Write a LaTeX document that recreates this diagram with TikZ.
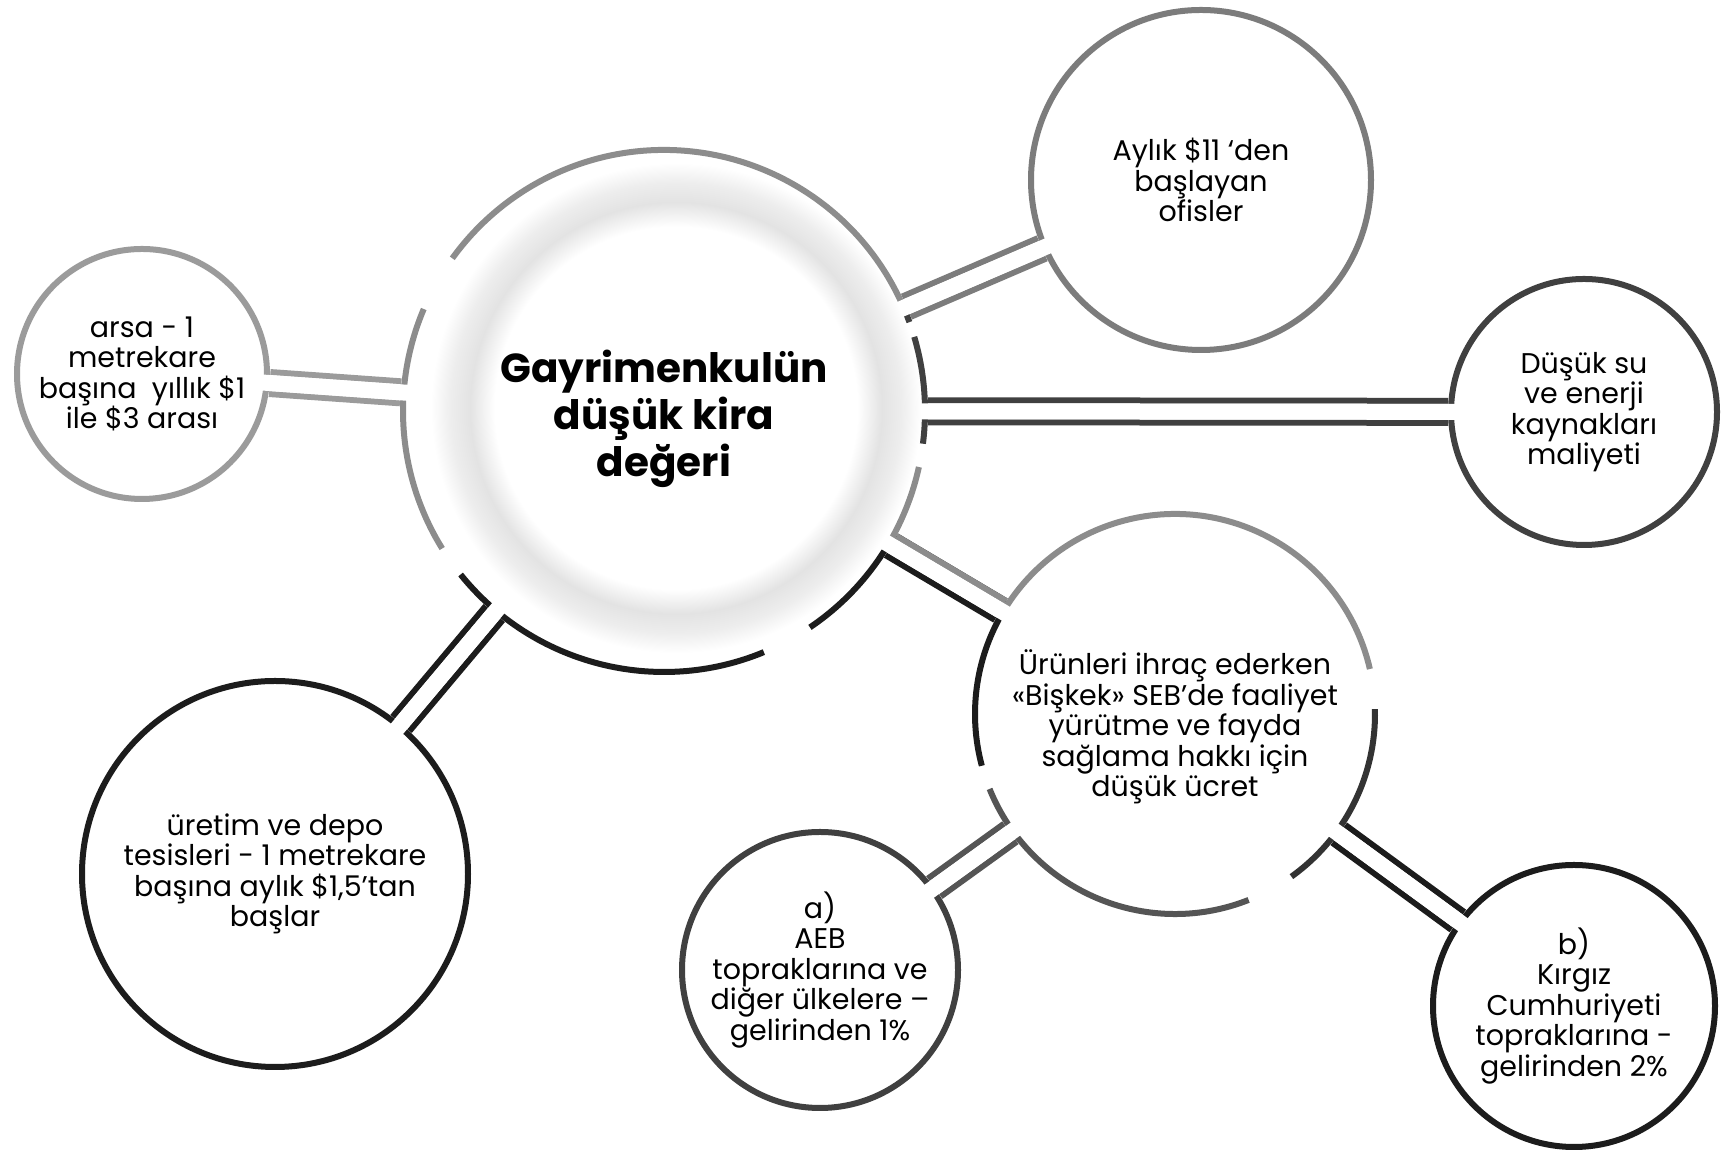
\documentclass[tikz,border=0pt]{standalone}
\usepackage{fontspec}
\setmainfont{Poppins}
\usetikzlibrary{calc}

\definecolor{lgray}{HTML}{9B9B9B}
\definecolor{mgray}{HTML}{7C7C7C}
\definecolor{rgray}{HTML}{8C8C8C}
\definecolor{sgray}{HTML}{555555}
\definecolor{dgray}{HTML}{404040}
\definecolor{ink}{HTML}{1C1C1C}

\pgfdeclareradialshading{hubglow}{\pgfpoint{0bp}{0bp}}{%
  color(0bp)=(white); color(18.5bp)=(white); color(21bp)=(black!11);
  color(23bp)=(black!7); color(25bp)=(white); color(50bp)=(white)}

\tikzset{
  txt/.style={align=center, font=\fontsize{28.5}{30.5}\selectfont},
  bubble/.style={circle, fill=white, line width=6pt, inner sep=0pt, txt},
  pipe/.style={double=white, double distance=16pt, line width=6pt},
  cut/.style={white, line width=16pt, shorten <=-7pt, shorten >=-7pt},
  ring/.style={line width=6pt},
}

\begin{document}
\begin{tikzpicture}[x=1pt, y=1pt]
  \def\hubR{261} \def\sebR{200}
  \fill[white] (0,0) rectangle (1722,1155);
  \useasboundingbox (0,0) rectangle (1722,1155);

  % soft glow inside the central ring
  \shade[shading=hubglow] (676,747) circle (245);
  \node[circle, inner sep=0pt, outer sep=0pt, minimum size=528pt,
        label={[align=center, font=\fontsize{40.5}{47}\selectfont\bfseries, yshift=-8pt]center:{Gayrimenkulün\\düşük kira\\değeri}}]
        (hub) at (664,744) {};

  % central ring, broken in pieces
  \draw[ring, rgray] ([shift={(hub.center)}]23.5:\hubR) arc[start angle=23.5, end angle=144.2, radius=\hubR];
  \draw[ring, dgray] ([shift={(hub.center)}]19.9:\hubR) arc[start angle=19.9, end angle=23.5, radius=\hubR];
  \draw[ring, dgray] ([shift={(hub.center)}]-7.2:\hubR) arc[start angle=-7.2, end angle=16.5, radius=\hubR];
  \draw[ring, rgray] ([shift={(hub.center)}]-30:\hubR) arc[start angle=-30, end angle=-12.4, radius=\hubR];
  \draw[ring, ink] ([shift={(hub.center)}]-56:\hubR) arc[start angle=-56, end angle=-30, radius=\hubR];
  \draw[ring, ink] ([shift={(hub.center)}]218.8:\hubR) arc[start angle=218.8, end angle=292.5, radius=\hubR];
  \draw[ring, rgray] ([shift={(hub.center)}]157:\hubR) arc[start angle=157, end angle=211.8, radius=\hubR];

  % outer circles
  \node[bubble, draw=lgray, minimum size=250pt] (arsa) at (142,781)
        {arsa - 1\\metrekare\\başına \ yıllık \$1\\ile \$3 arası};
  \node[bubble, draw=mgray, minimum size=340pt] (ofis) at (1201,975)
        {Aylık \$11 ‘den\\başlayan\\ofisler};
  \node[bubble, draw=dgray, minimum size=266pt] (su) at (1584,743)
        {Düşük su\\ve enerji\\kaynakları\\maliyeti};
  \node[bubble, minimum size=400pt,
        label={[txt, yshift=-13pt]center:{Ürünleri ihraç ederken\\«Bişkek» SEB’de faaliyet\\yürütme ve fayda\\sağlama hakkı için\\düşük ücret}}]
        (seb) at (1175,441) {};
  \node[bubble, draw=dgray, minimum size=276pt] (aeb) at (820,185)
        {a)\\AEB\\topraklarına ve\\diğer ülkelere –\\gelirinden 1\%};
  \node[bubble, draw=ink, minimum size=282pt] (kg) at (1574,149)
        {b)\\Kırgız\\Cumhuriyeti\\topraklarına -\\gelirinden 2\%};
  \node[bubble, draw=ink, minimum size=386pt] (uretim) at (275,281)
        {üretim ve depo\\tesisleri - 1 metrekare\\başına aylık \$1,5’tan\\başlar};

  % SEB circle outline in pieces
  \draw[ring, rgray] ([shift={(seb.center)}]13:\sebR) arc[start angle=13, end angle=150, radius=\sebR];
  \draw[ring, ink] ([shift={(seb.center)}]150:\sebR) arc[start angle=150, end angle=195, radius=\sebR];
  \draw[ring, sgray] ([shift={(seb.center)}]202:\sebR) arc[start angle=202, end angle=291.6, radius=\sebR];
  \draw[ring, dgray!80!black] ([shift={(seb.center)}]-54.4:\sebR) arc[start angle=-54.4, end angle=1.4, radius=\sebR];

  % connectors
  \draw[pipe, lgray] (hub) -- (arsa);
  \draw[pipe, mgray] (hub) -- (ofis);
  \draw[pipe, dgray] (hub) -- (su);
  \draw[pipe, ink] (hub) -- (seb) coordinate[pos=0] (hs1) coordinate[pos=1] (hs2);
  \draw[line width=6pt, rgray] ($(hs1)!11pt!90:(hs2)$) -- ($(hs2)!11pt!-90:(hs1)$);
  \draw[pipe, ink] (hub) -- (uretim);
  \draw[pipe, sgray] (seb) -- (aeb);
  \draw[pipe, ink] (seb) -- (kg);

  % open the outlines where the connectors enter
  \foreach \a/\b in {hub/arsa, hub/ofis, hub/su, hub/seb, hub/uretim, seb/aeb, seb/kg}
    \draw[cut] (\a) -- (\b);
\end{tikzpicture}
\end{document}
